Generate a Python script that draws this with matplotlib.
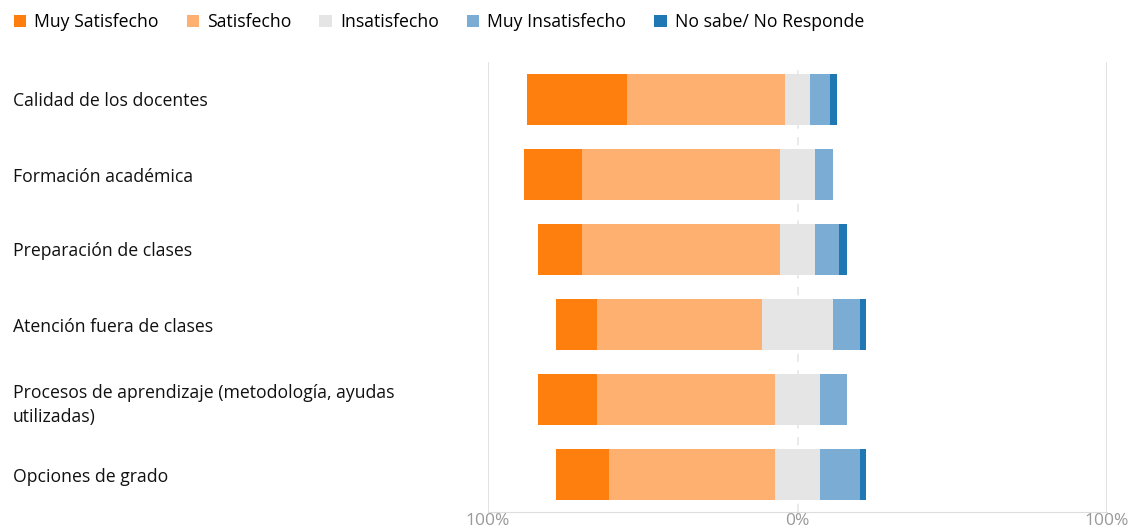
import matplotlib.pyplot as plt
import numpy as np

plt.rcParams['font.family'] = ['Open Sans', 'DejaVu Sans']

categorias = ["Calidad de los docentes",
              "Formación académica",
              "Preparación de clases",
              "Atención fuera de clases",
              "Procesos de aprendizaje (metodología, ayudas\nutilizadas)",
              "Opciones de grado"]
series = ["Muy Satisfecho", "Satisfecho", "Insatisfecho", "Muy Insatisfecho", "No sabe/ No Responde"]
muy_satisfecho = np.array([32.3, 19.0, 14.5, 13.1, 19.1, 17.1])
satisfecho = np.array([51.3, 64.0, 64.0, 53.4, 57.4, 53.4])
insatisfecho = np.array([7.9, 11.0, 11.0, 23.0, 14.8, 14.8])
muy_insatisfecho = np.array([6.5, 6.0, 8.0, 8.7, 8.7, 12.9])
no_responde = np.array([2.2, 0.0, 2.5, 1.9, 0.0, 1.9])
colores = ["#ff7f0e", "#fdb06f", "#e5e5e5", "#7bacd3", "#1f77b4"]

fig = plt.figure(figsize=(11.42, 5.29), dpi=100)
ax = fig.add_axes([488/1142, 1-512/529, (1107-488)/1142, (512-62)/529])

y = np.arange(len(categorias))
# la categoria neutra (Insatisfecho) queda centrada en 0
inicio = -(muy_satisfecho + satisfecho + insatisfecho/2)
valores = [muy_satisfecho, satisfecho, insatisfecho, muy_insatisfecho, no_responde]
left = inicio.copy()
for v, c, nombre in zip(valores, colores, series):
    ax.barh(y, v, left=left, height=0.667, color=c, label=nombre)
    left = left + v

ax.set_xlim(-100, 100)
ax.set_ylim(len(categorias)-0.5, -0.5)
ax.axvline(0, color="#e6e6e6", linestyle=(0, (5, 5)), linewidth=1.2, zorder=0)
ax.axvline(-100, color="#dddddd", linewidth=1.2, zorder=0)
ax.axvline(100, color="#dddddd", linewidth=1.2, zorder=0)

for s in ["top", "left", "right"]:
    ax.spines[s].set_visible(False)
ax.spines["bottom"].set_color("#dddddd")
ax.set_xticks([-100, 0, 100])
ax.set_xticklabels(["100%", "0%", "100%"], color="#999999", fontsize=12.5)
ax.tick_params(axis="x", length=0, pad=1)

ax.set_yticks(y)
ax.set_yticklabels(categorias, fontsize=12.7, ha="left", color="#111111", linespacing=1.45)
ax.tick_params(axis="y", length=0, pad=(488-13)*0.72)

fig.legend(loc="upper left", bbox_to_anchor=(-0.002, 1.005), ncol=5, frameon=False,
           fontsize=12.7, handlelength=0.7, handleheight=0.7, handletextpad=0.45,
           columnspacing=1.6)

plt.savefig("out.png", dpi=100)
